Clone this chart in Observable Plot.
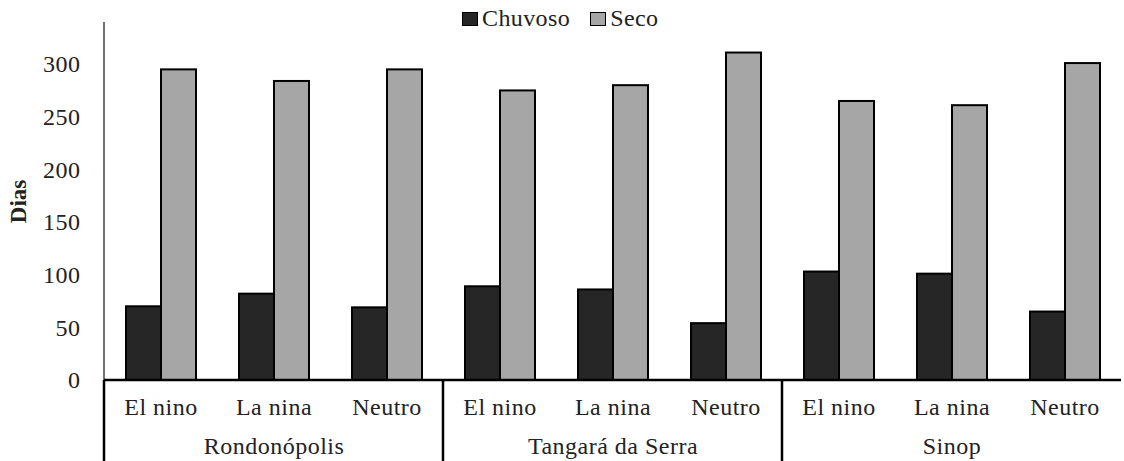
<!DOCTYPE html>
<html>
<head>
<meta charset="utf-8">
<script src="https://cdn.jsdelivr.net/npm/d3@7"></script>
<script src="https://cdn.jsdelivr.net/npm/@observablehq/plot@0.6"></script>
<style>
  html, body { margin: 0; padding: 0; background: #fff; }
  #wrap { position: relative; width: 1124px; height: 461px; font-family: 'Liberation Serif', serif; }
  #legend { position: absolute; top: 5px; left: 462px; display: flex; align-items: center; font-family: 'Liberation Serif', serif; font-size: 24px; letter-spacing: 0.4px; color: #222; z-index: 2; }
  #legend .item { display: flex; align-items: center; margin-right: 20px; }
  #legend .sw { width: 16px; height: 14px; border: 1.5px solid #000; box-sizing: border-box; margin-right: 4px; }
  svg text { font-family: 'Liberation Serif', serif; letter-spacing: 0.5px; }
  g[aria-label="y-axis label"] text { font-weight: bold; font-size: 23px; letter-spacing: 0; }
</style>
</head>
<body>
<div id="wrap">
  <div id="legend"></div>
  <div id="chart"></div>
</div>
<script>
const locations = ["Rondonópolis", "Tangará da Serra", "Sinop"];
const events = ["El nino", "La nina", "Neutro"];
const series = ["Chuvoso", "Seco"];
const chuvoso = [70, 82, 69, 89, 86, 54, 103, 101, 65];
const seco = [295, 284, 295, 275, 280, 311, 265, 261, 301];
const yTicks = [0, 50, 100, 150, 200, 250, 300];
const colors = ["#262626", "#a6a6a6"];

const keys = [];
locations.forEach(l => events.forEach(e => keys.push(l + "|" + e)));

const data = [];
keys.forEach((k, i) => {
  data.push({key: k, series: "Chuvoso", value: chuvoso[i]});
  data.push({key: k, series: "Seco", value: seco[i]});
});
const groups = locations.map(l => ({key: l + "|" + events[1], name: l}));

// legend
const legend = document.getElementById("legend");
series.forEach((s, i) => {
  const it = document.createElement("div");
  it.className = "item";
  it.innerHTML = `<span class="sw" style="background:${colors[i]}"></span><span>${s}</span>`;
  legend.appendChild(it);
});

const plot = Plot.plot({
  width: 1124,
  height: 461,
  marginLeft: 100,
  marginRight: 0,
  marginTop: 22,
  marginBottom: 81,
  style: {fontFamily: "'Liberation Serif', serif", fontSize: "24px", color: "#222", background: "#fff"},
  fx: {domain: keys, padding: 0, label: null},
  x: {domain: series, paddingInner: 0, paddingOuter: 0.6, axis: null},
  y: {domain: [0, 340]},
  color: {domain: series, range: colors},
  marks: [
    Plot.axisY({ticks: yTicks, tickSize: 0, tickPadding: 24, label: "Dias", labelAnchor: "center", labelArrow: "none", labelOffset: 95}),
    Plot.axisFx({anchor: "bottom", tickSize: 0, tickPadding: 17, label: null, tickFormat: d => d.split("|")[1]}),
    Plot.barY(data, {fx: "key", x: "series", y: "value", fill: "series", stroke: "#000", strokeWidth: 2}),
    Plot.text(groups, {fx: "key", text: "name", frameAnchor: "bottom", dy: 73, fill: "#222"})
  ]
});
document.getElementById("chart").appendChild(plot);

// axis lines and group dividers positioned from the plot's scales
const fx = plot.scale("fx");
const ys = plot.scale("y");
const y0 = ys.apply(0);
const yTop = ys.apply(340);
const svg = d3.select(plot);
const g = svg.append("g").attr("stroke", "#000");
const left = fx.apply(keys[0]);
const right = fx.apply(keys[keys.length - 1]) + fx.bandwidth;
g.append("line").attr("x1", left).attr("x2", left).attr("y1", yTop).attr("y2", y0).attr("stroke", "#444").attr("stroke-width", 1.5);
g.append("line").attr("x1", left).attr("x2", left).attr("y1", y0).attr("y2", 461).attr("stroke-width", 2.5);
g.append("line").attr("x1", left).attr("x2", right).attr("y1", y0).attr("y2", y0).attr("stroke-width", 2.5);
locations.slice(1).forEach(l => {
  const x = fx.apply(l + "|" + events[0]);
  g.append("line").attr("x1", x).attr("x2", x).attr("y1", y0).attr("y2", 461).attr("stroke-width", 2.5);
});
</script>
</body>
</html>
